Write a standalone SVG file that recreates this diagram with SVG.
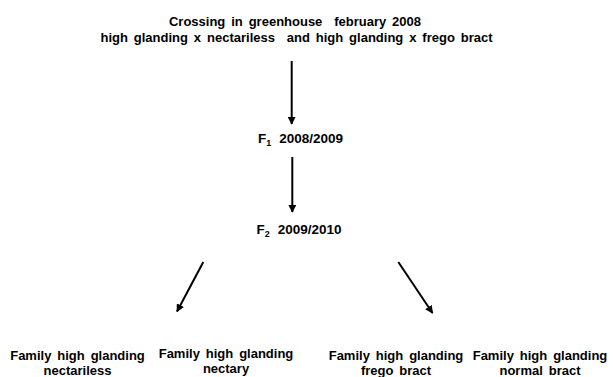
<svg xmlns="http://www.w3.org/2000/svg" width="613" height="377" viewBox="0 0 613 377">
<style>
text{font-family:"Liberation Sans",Arial,sans-serif;font-weight:bold;font-size:13px;fill:#000;text-anchor:middle;word-spacing:2.3px}
.s{text-anchor:start;font-size:13.5px}
.c{stroke:#000;stroke-width:2;fill:none}
</style>
<defs>
<marker id="ah" viewBox="0 0 10 10" refX="9" refY="5" markerWidth="4" markerHeight="4" orient="auto" markerUnits="strokeWidth">
<path d="M0,0 L10,5 L0,10 z" fill="#000"/>
</marker>
</defs>
<rect width="613" height="377" fill="#fff"/>
<g id="cross">
<text x="295" y="26" xml:space="preserve">Crossing in greenhouse  february 2008</text>
<text x="296.5" y="42" xml:space="preserve">high glanding x nectariless  and high glanding x frego bract</text>
</g>
<g id="f1">
<text class="s" x="258" y="143">F<tspan font-size="9" dy="3">1</tspan><tspan dy="-3" dx="2"> 2008/2009</tspan></text>
</g>
<g id="f2">
<text class="s" x="256.5" y="234">F<tspan font-size="9" dy="3">2</tspan><tspan dy="-3" dx="2"> 2009/2010</tspan></text>
</g>
<g id="fam1">
<text x="77.5" y="360">Family high glanding</text>
<text x="77.5" y="375">nectariless</text>
</g>
<g id="fam2">
<text x="226" y="358">Family high glanding</text>
<text x="226" y="373">nectary</text>
</g>
<g id="fam3">
<text x="396" y="360">Family high glanding</text>
<text x="396" y="375">frego bract</text>
</g>
<g id="fam4">
<text x="540" y="360">Family high glanding</text>
<text x="540" y="375">normal bract</text>
</g>
<g id="connectors">
<line class="c" x1="291.7" y1="61" x2="291.7" y2="124" marker-end="url(#ah)"/>
<line class="c" x1="292.3" y1="157" x2="292.3" y2="212" marker-end="url(#ah)"/>
<line class="c" x1="203.3" y1="262" x2="177" y2="311.5" marker-end="url(#ah)"/>
<line class="c" x1="398.3" y1="262" x2="432.5" y2="313" marker-end="url(#ah)"/>
</g>
</svg>
